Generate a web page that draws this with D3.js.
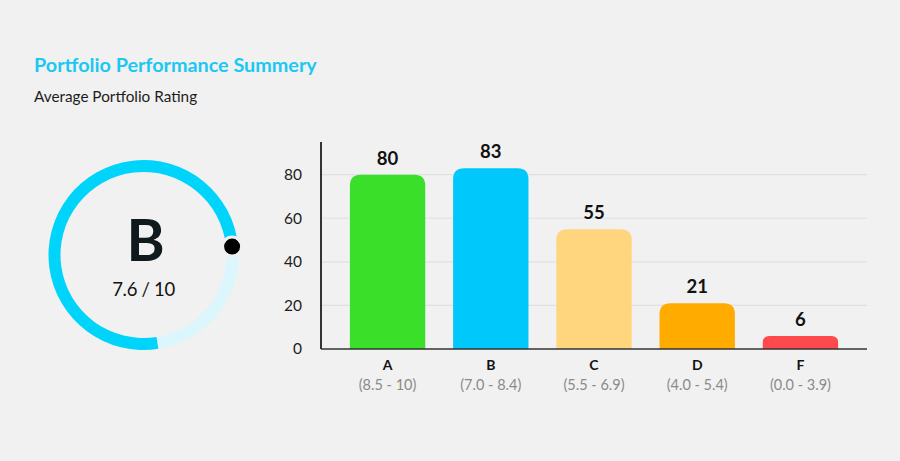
<!DOCTYPE html>
<html>
<head>
<meta charset="utf-8">
<script src="https://cdn.jsdelivr.net/npm/d3@7"></script>
<style>
  html, body { margin: 0; padding: 0; background: #f1f1f1; }
  svg { display: block; font-family: "Lato", "Noto Sans", sans-serif; }
</style>
</head>
<body>
<div id="graph"></div>
<script>
// Data
const grades = ["A", "B", "C", "D", "F"];
const ranges = ["(8.5 - 10)", "(7.0 - 8.4)", "(5.5 - 6.9)", "(4.0 - 5.4)", "(0.0 - 3.9)"];
const counts = [80, 83, 55, 21, 6];
const barColors = ["#3adf2a", "#00c8fa", "#ffd57d", "#ffab00", "#ff4a4d"];
const yTicks = [0, 20, 40, 60, 80];
const avgGrade = "B";
const avgScore = 7.6;
const maxScore = 10;

const width = 900;
const height = 461;

const svg = d3.select("#graph")
    .append("svg")
    .attr("width", width)
    .attr("height", height);

svg.append("rect")
    .attr("width", width)
    .attr("height", height)
    .attr("fill", "#f1f1f1");

// Titles
svg.append("text")
    .attr("x", 34)
    .attr("y", 72)
    .attr("fill", "#1cc8f2")
    .attr("font-size", 19.8)
    .attr("font-weight", 700)
    .text("Portfolio Performance Summery");

svg.append("text")
    .attr("x", 34)
    .attr("y", 102)
    .attr("fill", "#1d1d1d")
    .attr("font-size", 15.3)
    .text("Average Portfolio Rating");

// Gauge
const cx = 143.5, cy = 255;
const outerR = 95, innerR = 83;
const startAngle = Math.PI * 0.95;
const fraction = avgScore / maxScore;
const endAngle = startAngle + fraction * 2 * Math.PI;

const gauge = svg.append("g").attr("transform", `translate(${cx},${cy})`);
const arc = d3.arc().innerRadius(innerR).outerRadius(outerR);

gauge.append("path")
    .attr("d", arc({startAngle: endAngle, endAngle: startAngle + 2 * Math.PI}))
    .attr("fill", "#dbf6fc");

gauge.append("path")
    .attr("d", arc({startAngle: startAngle, endAngle: endAngle}))
    .attr("fill", "#00d4fb");

const dotR = (innerR + outerR) / 2;
gauge.append("circle")
    .attr("cx", dotR * Math.sin(endAngle))
    .attr("cy", -dotR * Math.cos(endAngle))
    .attr("r", 9.5)
    .attr("fill", "#000")
    .attr("stroke", "#f1f1f1")
    .attr("stroke-width", 3);

gauge.append("text")
    .attr("x", 2)
    .attr("y", 6)
    .attr("text-anchor", "middle")
    .attr("fill", "#0f1a1e")
    .attr("font-size", 58)
    .attr("font-weight", 700)
    .text(avgGrade);

gauge.append("text")
    .attr("x", 0)
    .attr("y", 41)
    .attr("text-anchor", "middle")
    .attr("fill", "#111")
    .attr("font-size", 18.5)
    .attr("letter-spacing", -0.3)
    .text(`${avgScore} / ${maxScore}`);

// Bar chart
const margin = {left: 321, right: 33, top: 142, bottom: 112};
const innerW = width - margin.left - margin.right;
const innerH = height - margin.top - margin.bottom;

const g = svg.append("g").attr("transform", `translate(${margin.left},${margin.top})`);

const x = d3.scaleBand()
    .domain(grades)
    .range([0, innerW])
    .paddingInner(0.27)
    .paddingOuter(0.28);

const y = d3.scaleLinear()
    .domain([0, 95])
    .range([innerH, 0]);

// Grid
g.append("g")
    .selectAll("line")
    .data(yTicks.filter(d => d > 0))
    .join("line")
    .attr("x1", 0)
    .attr("x2", innerW)
    .attr("y1", d => y(d))
    .attr("y2", d => y(d))
    .attr("stroke", "#e0e0e0")
    .attr("stroke-width", 1.2);

// Y axis
const yAxis = g.append("g")
    .call(d3.axisLeft(y).tickValues(yTicks).tickSize(0).tickPadding(19));
yAxis.select(".domain").remove();
yAxis.selectAll("text")
    .attr("font-family", "Lato, sans-serif")
    .attr("font-size", 15.5)
    .attr("fill", "#1d1d1d");

// Bars with rounded tops
function barPath(d, i) {
    const x0 = x(grades[i]);
    const w = x.bandwidth();
    const y0 = y(d);
    const h = innerH - y0;
    const r = Math.min(11, h * 0.5);
    return `M${x0},${innerH}V${y0 + r}Q${x0},${y0} ${x0 + r},${y0}H${x0 + w - r}Q${x0 + w},${y0} ${x0 + w},${y0 + r}V${innerH}Z`;
}

g.selectAll(".bar")
    .data(counts)
    .join("path")
    .attr("class", "bar")
    .attr("d", barPath)
    .attr("fill", (d, i) => barColors[i]);

g.selectAll(".value")
    .data(counts)
    .join("text")
    .attr("class", "value")
    .attr("x", (d, i) => x(grades[i]) + x.bandwidth() / 2)
    .attr("y", d => y(d) - 10)
    .attr("text-anchor", "middle")
    .attr("fill", "#111")
    .attr("font-size", 18.5)
    .attr("font-weight", 700)
    .text(d => d);

// Axis lines
g.append("line")
    .attr("x1", 0).attr("x2", 0)
    .attr("y1", 0).attr("y2", innerH)
    .attr("stroke", "#333")
    .attr("stroke-width", 2);

g.append("line")
    .attr("x1", 0).attr("x2", innerW)
    .attr("y1", innerH).attr("y2", innerH)
    .attr("stroke", "#333")
    .attr("stroke-width", 1.5);

// Category labels
g.selectAll(".grade")
    .data(grades)
    .join("text")
    .attr("class", "grade")
    .attr("x", d => x(d) + x.bandwidth() / 2)
    .attr("y", innerH + 21)
    .attr("text-anchor", "middle")
    .attr("fill", "#111")
    .attr("font-size", 14)
    .attr("font-weight", 700)
    .text(d => d);

g.selectAll(".range")
    .data(ranges)
    .join("text")
    .attr("class", "range")
    .attr("x", (d, i) => x(grades[i]) + x.bandwidth() / 2)
    .attr("y", innerH + 41)
    .attr("text-anchor", "middle")
    .attr("fill", "#8a8a8a")
    .attr("font-size", 14.5)
    .text(d => d);
</script>
</body>
</html>
